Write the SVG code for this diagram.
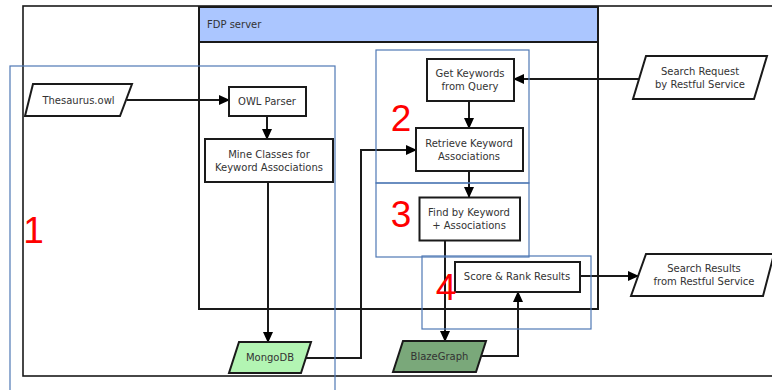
<svg xmlns="http://www.w3.org/2000/svg" width="772" height="390" viewBox="0 0 772 390">
<style>
.frame{fill:none;stroke:#1a1a1a;stroke-width:1.6}
.box{fill:#fff;stroke:#1a1a1a;stroke-width:2}
.zone{fill:none;stroke:#4f78b5;stroke-width:1.2}
.t{font-family:"DejaVu Sans",sans-serif;font-size:10px;fill:#333;text-anchor:middle}
.num{font-family:"Liberation Sans",Arial,sans-serif;font-size:37px;fill:#ff0000;text-anchor:middle}
.c{fill:none;stroke:#1a1a1a;stroke-width:2}
</style>
<defs>
<marker id="arr" markerUnits="userSpaceOnUse" markerWidth="11" markerHeight="10" refX="10" refY="5" orient="auto">
<path d="M0,0 L11,5 L0,10 z" fill="#000"/>
</marker>
</defs>
<rect width="772" height="390" fill="#fff"/>
<rect id="outer" class="frame" x="23" y="6" width="760" height="370"/>
<g id="fdp-server">
<rect class="box" x="199" y="7" width="399" height="302"/>
<rect x="199" y="7" width="399" height="35" fill="#abc6ff" stroke="#1a1a1a" stroke-width="2"/>
<text x="207" y="28" style="font-family:'DejaVu Sans',sans-serif;font-size:10px;fill:#333">FDP server</text>
</g>
<g id="connectors">
<line class="c" x1="127" y1="100" x2="229" y2="100" marker-end="url(#arr)"/>
<line class="c" x1="267" y1="116" x2="267" y2="139" marker-end="url(#arr)"/>
<line class="c" x1="268" y1="182" x2="268" y2="342" marker-end="url(#arr)"/>
<polyline class="c" points="306,358 361,358 361,150 416,150" marker-end="url(#arr)"/>
<line class="c" x1="640" y1="79" x2="514" y2="79" marker-end="url(#arr)"/>
<line class="c" x1="469" y1="101" x2="469" y2="128" marker-end="url(#arr)"/>
<line class="c" x1="469" y1="171" x2="469" y2="197" marker-end="url(#arr)"/>
<line class="c" x1="445" y1="241" x2="445" y2="341" marker-end="url(#arr)"/>
<polyline class="c" points="482,356 518,356 518,292" marker-end="url(#arr)"/>
<line class="c" x1="580" y1="276" x2="638" y2="276" marker-end="url(#arr)"/>
</g>
<g id="thesaurus">
<polygon class="box" points="33,84 132,84 120,116 25,116"/>
<text class="t" x="78.5" y="103.5">Thesaurus.owl</text>
</g>
<g id="owl-parser">
<rect class="box" x="229" y="87" width="77" height="29"/>
<text class="t" x="267" y="104.5">OWL Parser</text>
</g>
<g id="mine-classes">
<rect class="box" x="205" y="139" width="128" height="43"/>
<text class="t" x="269" y="158">Mine Classes for</text>
<text class="t" x="269" y="170.5">Keyword Associations</text>
</g>
<g id="mongodb">
<polygon points="239,342 311,342 301,373 229,373" fill="#b3f5b3" stroke="#1a1a1a" stroke-width="2"/>
<text class="t" x="270" y="361">MongoDB</text>
</g>
<g id="get-keywords">
<rect class="box" x="427" y="59" width="87" height="42"/>
<text class="t" x="470" y="77">Get Keywords</text>
<text class="t" x="470" y="90">from Query</text>
</g>
<g id="search-request">
<polygon class="box" points="646,56 767,56 754,99 633,99"/>
<text class="t" x="700" y="75">Search Request</text>
<text class="t" x="700" y="87.5">by Restful Service</text>
</g>
<g id="retrieve">
<rect class="box" x="416" y="128" width="107" height="43"/>
<text class="t" x="469" y="147">Retrieve Keyword</text>
<text class="t" x="469" y="159.5">Associations</text>
</g>
<g id="find">
<rect class="box" x="419.5" y="197.5" width="100.5" height="43"/>
<text class="t" x="469" y="216">Find by Keyword</text>
<text class="t" x="469" y="228.5">+ Associations</text>
</g>
<g id="blazegraph">
<polygon points="403,341 486,341 476,372 393,372" fill="#7aa87a" stroke="#1a1a1a" stroke-width="2"/>
<text class="t" x="439.5" y="359.5">BlazeGraph</text>
</g>
<g id="score">
<rect class="box" x="455" y="262" width="125" height="30"/>
<text class="t" x="517" y="279.5">Score &amp; Rank Results</text>
</g>
<g id="search-results">
<polygon class="box" points="646,254 774,254 763,296 631,296"/>
<text class="t" x="704" y="271.5">Search Results</text>
<text class="t" x="704" y="284.5">from Restful Service</text>
</g>
<g id="zones">
<rect class="zone" x="10" y="66" width="325" height="340"/>
<rect class="zone" x="376" y="50" width="153" height="133"/>
<rect class="zone" x="376" y="183" width="153" height="74"/>
<rect class="zone" x="422" y="256" width="169" height="73"/>
<text class="num" x="33.5" y="243">1</text>
<text class="num" x="401" y="131">2</text>
<text class="num" x="401" y="227">3</text>
<text class="num" x="446" y="300">4</text>
</g>
</svg>
